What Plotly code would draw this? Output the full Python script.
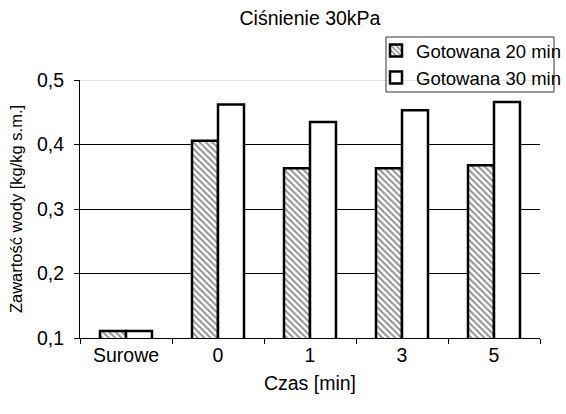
import plotly.graph_objects as go

categories = ["Surowe", "0", "1", "3", "5"]
gotowana_20 = [0.111, 0.406, 0.363, 0.363, 0.368]
gotowana_30 = [0.111, 0.462, 0.435, 0.453, 0.466]
series_names = ["Gotowana 20 min", "Gotowana 30 min"]
title_text = "Ciśnienie 30kPa"
x_title = "Czas [min]"
y_title = "Zawartość wody [kg/kg s.m.]"

FONT = "Liberation Sans"
FS = 19.5

fig = go.Figure()
fig.add_trace(go.Bar(
    x=categories, y=gotowana_20, name=series_names[0], legendgroup="a",
    marker=dict(color="white", line=dict(color="black", width=2.5),
                pattern=dict(shape="\\", fgcolor="#222222", bgcolor="white",
                             size=4.5, solidity=0.45)),
))
fig.add_trace(go.Bar(
    x=categories, y=gotowana_30, name=series_names[1], legendgroup="b",
    marker=dict(color="white", line=dict(color="black", width=2.5)),
))

fig.update_layout(
    width=566, height=414,
    margin=dict(l=80, r=26, t=80, b=76, autoexpand=False),
    paper_bgcolor="white", plot_bgcolor="white",
    font=dict(family=FONT, size=FS, color="black"),
    separators=", ",
    title=dict(text=title_text, x=0.5, xref="paper", xanchor="center",
               y=0.955, yanchor="middle", font=dict(size=FS, family=FONT)),
    barmode="group", bargap=0.435, bargroupgap=0,
    showlegend=True,
    legend=dict(x=(376 - 80) / 460, y=(338 - 32) / 258, xanchor="left", yanchor="top",
                xref="paper", yref="paper",
                bgcolor="rgba(0,0,0,0)", borderwidth=0,
                traceorder="grouped", tracegroupgap=0,
                font=dict(size=18.5, family=FONT), itemwidth=30),
    xaxis=dict(title=dict(text=x_title, standoff=10, font=dict(size=FS, family=FONT)),
               tickfont=dict(size=FS, family=FONT),
               showline=True, linecolor="black",
               linewidth=1, ticks="outside", tickson="boundaries", ticklen=5,
               tickcolor="black", showgrid=False),
    yaxis=dict(title=dict(text=y_title, standoff=10, font=dict(size=16.5, family=FONT)),
               tickfont=dict(size=FS, family=FONT),
               range=[0.1, 0.5], dtick=0.1, tick0=0.1,
               tickformat=".1f", showline=True, linecolor="black", linewidth=1,
               ticks="outside", ticklen=5, tickcolor="black",
               showgrid=True, gridcolor="black", gridwidth=1,
               ticklabelstandoff=6),
    shapes=[
        dict(type="line", xref="paper", yref="y", x0=0, x1=1, y0=0.5, y1=0.5,
             line=dict(color="#c8c8c8", width=1), layer="above"),
        dict(type="rect", xref="paper", yref="paper",
             x0=(386 - 80) / 460, x1=(554 - 80) / 460,
             y0=(338 - 92) / 258, y1=(338 - 37) / 258,
             line=dict(color="#333333", width=1), fillcolor="rgba(0,0,0,0)",
             layer="above"),
    ],
)

fig.write_html("out.html")
